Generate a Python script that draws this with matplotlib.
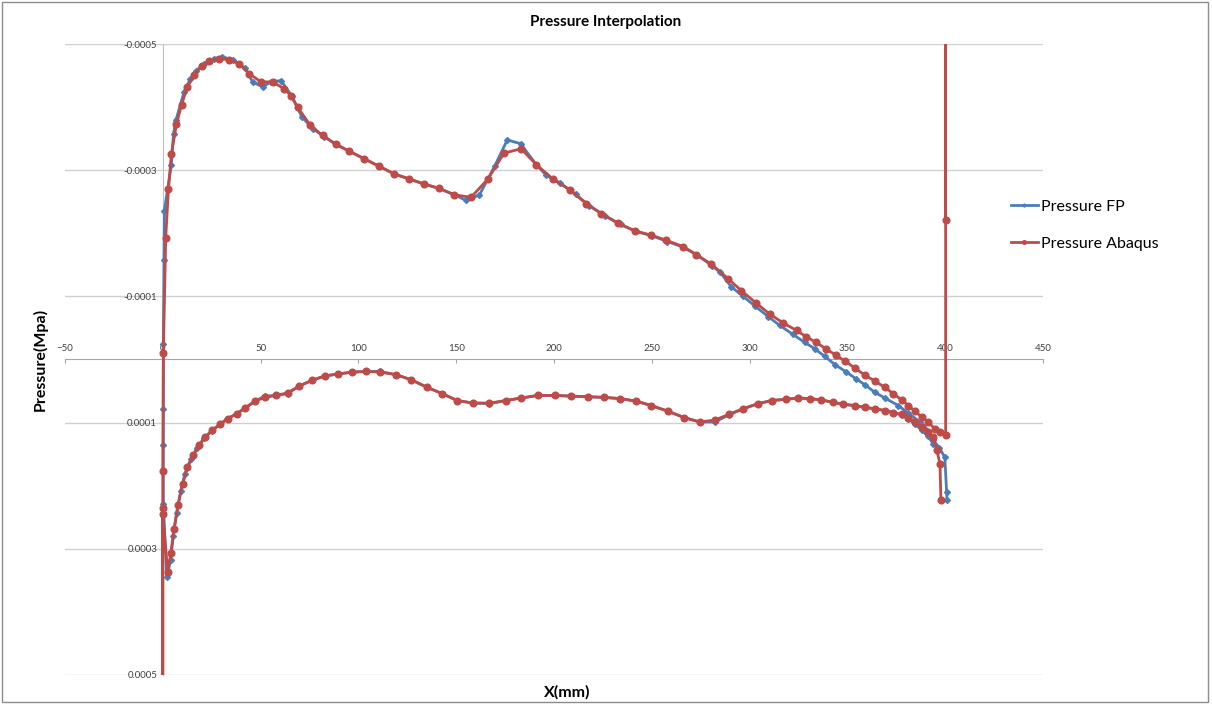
import numpy as np
import matplotlib.pyplot as plt
from matplotlib.patches import Rectangle

# x in mm, pressure in 1e-4 MPa
# --- Pressure FP ---
fp_up_x = [0.3, 0.6, 0.8, 4.4, 5.5, 6.7, 10.9, 14.0, 16.9, 21.1, 26.3, 30.5, 36.0, 42.0, 45.9,
           51.0, 55.3, 60.4, 65.9, 71.0, 76.6, 82.6, 88.5, 95.4, 103.0, 110.7, 118.4, 126.1,
           133.7, 141.4, 149.1, 155.1, 161.9, 169.6, 176.1, 182.9, 190.9, 196.0, 203.0, 211.0,
           218.0, 226.0, 234.0, 242.0, 250.0, 258.0, 266.0, 273.0, 281.0, 285.0, 290.7, 296.7,
           303.0, 309.5, 315.4, 322.0, 328.2, 333.3, 338.4, 343.6, 349.5, 354.6, 358.9, 364.0,
           369.1, 376.0, 381.1, 387.1, 389.6, 393.9, 397.0, 399.8, 400.7, 400.9]
fp_up_p = [-0.25, -1.58, -2.36, -3.09, -3.58, -3.79, -4.24, -4.44, -4.57, -4.69, -4.77, -4.80,
           -4.74, -4.62, -4.40, -4.32, -4.40, -4.42, -4.18, -3.85, -3.66, -3.53, -3.41, -3.30,
           -3.18, -3.06, -2.94, -2.86, -2.78, -2.71, -2.61, -2.52, -2.61, -3.06, -3.48, -3.42,
           -3.09, -2.92, -2.80, -2.62, -2.44, -2.28, -2.14, -2.03, -1.96, -1.87, -1.78, -1.66,
           -1.48, -1.38, -1.15, -1.00, -0.84, -0.68, -0.54, -0.40, -0.27, -0.17, -0.05, 0.08,
           0.20, 0.31, 0.40, 0.52, 0.61, 0.73, 0.85, 0.99, 1.10, 1.28, 1.40, 1.55, 2.10, 2.23]
fp_le_x = [0.3, 0.3, 0.3]
fp_le_p = [0.78, 1.35, 2.29]
fp_lo_x = [2.0, 4.1, 5.3, 7.1, 9.2, 11.3, 14.3, 17.5, 21.0, 25.0, 29.0, 33.0, 37.7, 42.1, 47.1,
           52.2, 57.8, 63.8, 69.8, 76.3, 82.9, 89.7, 96.6, 103.9, 111.2, 119.2, 126.9, 135.1,
           142.8, 150.5, 158.5, 167.0, 175.5, 183.2, 191.8, 200.3, 208.8, 217.3, 225.5, 233.9,
           242.1, 249.7, 258.3, 266.5, 274.5, 282.2, 289.3, 296.7, 304.3, 311.2, 318.8, 324.8,
           330.8, 336.7, 342.7, 347.8, 353.8, 358.9, 364.0, 369.1, 373.4, 377.7, 381.1, 384.5,
           387.9, 391.3, 393.9]
fp_lo_p = [3.45, 3.17, 2.80, 2.44, 2.08, 1.81, 1.58, 1.40, 1.25, 1.13, 1.03, 0.94, 0.86, 0.77,
           0.66, 0.58, 0.57, 0.54, 0.42, 0.33, 0.26, 0.23, 0.20, 0.19, 0.19, 0.24, 0.32, 0.44,
           0.54, 0.65, 0.69, 0.70, 0.65, 0.61, 0.57, 0.57, 0.58, 0.59, 0.60, 0.62, 0.66, 0.73,
           0.82, 0.92, 0.99, 0.99, 0.88, 0.78, 0.70, 0.65, 0.63, 0.61, 0.62, 0.64, 0.68, 0.71,
           0.73, 0.76, 0.78, 0.81, 0.84, 0.88, 0.94, 1.02, 1.12, 1.22, 1.34]

# --- Pressure Abaqus ---
ab_te_x = [400.2, 400.2]
ab_te_p = [-2.21, -9.0]
ab_up_x = [0.3, 1.5, 2.9, 4.4, 7.0, 9.6, 12.6, 16.0, 19.8, 23.7, 28.8, 33.9, 39.0, 44.2, 50.2,
           56.1, 62.1, 65.5, 68.9, 75.4, 81.7, 88.5, 95.4, 103.0, 110.7, 118.4, 126.1, 133.7,
           141.4, 149.1, 157.6, 166.2, 174.4, 183.2, 190.9, 199.4, 208.0, 216.5, 224.2, 232.7,
           241.2, 249.7, 257.4, 266.0, 272.8, 280.5, 289.0, 295.8, 303.5, 310.3, 317.1, 324.0,
           329.0, 334.0, 339.0, 344.0, 349.0, 354.0, 359.0, 364.0, 369.0, 373.4, 377.7, 381.1,
           384.5, 387.9, 391.3, 394.7, 397.3, 400.2]
ab_up_p = [-0.10, -1.93, -2.70, -3.26, -3.73, -4.04, -4.32, -4.51, -4.65, -4.73, -4.77, -4.75,
           -4.69, -4.53, -4.40, -4.40, -4.29, -4.18, -4.00, -3.71, -3.55, -3.41, -3.30, -3.18,
           -3.06, -2.94, -2.86, -2.78, -2.71, -2.61, -2.57, -2.86, -3.27, -3.34, -3.09, -2.86,
           -2.69, -2.47, -2.31, -2.16, -2.04, -1.97, -1.89, -1.79, -1.66, -1.51, -1.28, -1.09,
           -0.89, -0.72, -0.58, -0.46, -0.36, -0.27, -0.17, -0.07, 0.03, 0.14, 0.25, 0.34,
           0.44, 0.54, 0.64, 0.73, 0.82, 0.91, 0.99, 1.10, 1.15, 1.20]
ab_le_x = [0.0, 0.0, 0.0, 0.0]
ab_le_p = [1.76, 2.36, 9.0, 2.45]
ab_lo_x = [2.5, 4.1, 5.8, 7.8, 10.1, 12.6, 15.5, 18.6, 21.7, 25.4, 29.2, 33.1, 37.7, 42.1, 47.1,
           52.2, 57.8, 63.8, 69.8, 76.3, 82.9, 89.7, 96.6, 103.9, 111.2, 119.2, 126.9, 135.1,
           142.8, 150.5, 158.5, 167.0, 175.5, 183.2, 191.8, 200.3, 208.8, 217.3, 225.5, 233.9,
           242.1, 249.7, 258.3, 266.5, 274.5, 282.2, 289.3, 296.7, 304.3, 311.2, 318.8, 324.8,
           330.8, 336.7, 342.7, 347.8, 353.8, 358.9, 364.0, 369.1, 373.4, 377.7, 381.1, 384.5,
           387.9, 391.3, 393.9, 395.7, 397.3, 397.8]
ab_lo_p = [3.36, 3.07, 2.68, 2.30, 1.98, 1.71, 1.52, 1.36, 1.23, 1.12, 1.03, 0.94, 0.86, 0.77,
           0.66, 0.60, 0.57, 0.53, 0.42, 0.33, 0.26, 0.23, 0.20, 0.19, 0.20, 0.24, 0.32, 0.44,
           0.54, 0.65, 0.69, 0.69, 0.65, 0.61, 0.57, 0.57, 0.58, 0.59, 0.60, 0.62, 0.66, 0.73,
           0.82, 0.92, 0.99, 0.96, 0.87, 0.78, 0.70, 0.65, 0.63, 0.61, 0.62, 0.64, 0.68, 0.71,
           0.73, 0.76, 0.78, 0.81, 0.84, 0.87, 0.92, 0.99, 1.07, 1.15, 1.23, 1.44, 1.65, 2.23]

y_ticks = [-0.0005, -0.0003, -0.0001, 0.0001, 0.0003, 0.0005]
y_labels = ['-0.0005', '-0.0003', '-0.0001', '0.0001', '0.0003', '0.0005']
x_ticks = [-50, 0, 50, 100, 150, 200, 250, 300, 350, 400, 450]

# one polyline per series: upper TE->LE, leading edge, lower LE->TE
fp_x = np.concatenate([fp_up_x[::-1], fp_le_x, fp_lo_x])
fp_p = np.concatenate([fp_up_p[::-1], fp_le_p, fp_lo_p]) * 1e-4
ab_x = np.concatenate([ab_te_x, ab_up_x[::-1], ab_le_x, ab_lo_x])
ab_p = np.concatenate([ab_te_p, ab_up_p[::-1], ab_le_p, ab_lo_p]) * 1e-4

plt.rcParams['font.family'] = ['Lato', 'DejaVu Sans']

fig = plt.figure(figsize=(12.12, 7.04), dpi=100)
ax = fig.add_axes([0.0536, 0.0412, 0.8070, 0.8963])

ax.plot(fp_x, fp_p, color='#4A7EBB', lw=2.0, marker='D', ms=3.0, label='Pressure FP', zorder=3)
ax.plot(ab_x, ab_p, color='#BE4B48', lw=2.0, marker='o', ms=4.8, label='Pressure Abaqus', zorder=4)

ax.set_xlim(-50, 450)
ax.set_ylim(0.0005, -0.0005)
ax.set_yticks(y_ticks)
ax.set_yticklabels(y_labels)
ax.set_xticks(x_ticks)
ax.grid(axis='y', color='#D0D0D0', lw=1)
ax.set_axisbelow(True)

for s in ['right', 'bottom']:
    ax.spines[s].set_visible(False)
ax.spines['left'].set_position(('data', 0))
ax.spines['top'].set_position(('data', 0))
ax.spines['left'].set_color('#BFBFBF')
ax.spines['top'].set_color('#A6A6A6')
ax.xaxis.tick_top()
ax.tick_params(axis='x', direction='in', length=3, color='#A6A6A6', labelsize=7,
               labelcolor='#404040', pad=5)
ax.tick_params(axis='y', length=0, labelsize=7, labelcolor='#404040', pad=4)

fig.text(0.5, 0.969, 'Pressure Interpolation', ha='center', va='center', fontsize=11,
         fontweight='bold')
fig.text(0.468, 0.017, 'X(mm)', ha='center', va='center', fontsize=11.5, fontweight='bold')
fig.text(0.033, 0.49, 'Pressure(Mpa)', ha='center', va='center', rotation=90, fontsize=11.5,
         fontweight='bold')

fig.legend(loc='upper left', bbox_to_anchor=(0.822, 0.737), frameon=False, fontsize=11.5,
           handlelength=1.7, handletextpad=0.2, labelspacing=1.45, markerscale=0.55)

fig.patches.append(Rectangle((0.002, 0.003), 0.995, 0.994, transform=fig.transFigure,
                             fill=False, edgecolor='#8C8C8C', lw=1))

fig.savefig('out.png', dpi=100)
